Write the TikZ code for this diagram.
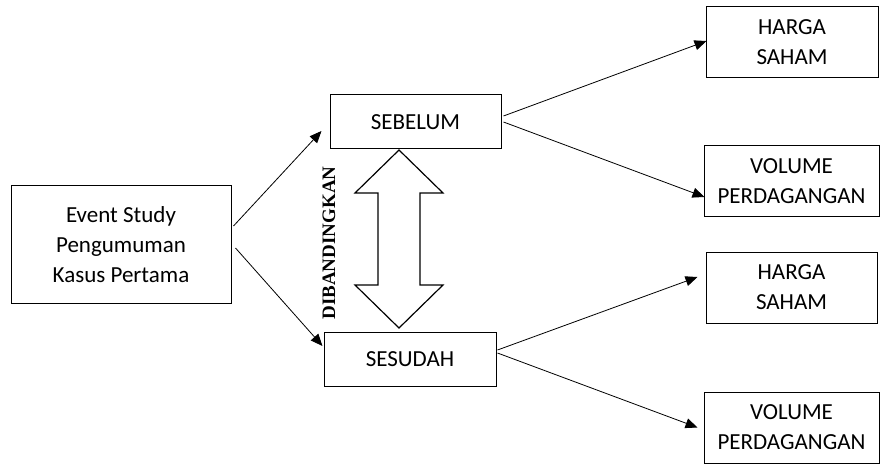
\documentclass[tikz,border=0pt]{standalone}
\usepackage{fontspec}
\setmainfont{Carlito}
\newfontfamily\serifbold{Liberation Serif}
\usetikzlibrary{arrows.meta}

\begin{document}
\begin{tikzpicture}[x=1pt,y=1pt,
  box/.style={draw,line width=1pt,align=center,inner sep=0pt,font=\fontsize{23}{30}\selectfont},
  link/.style={-{Triangle[length=12pt,width=10pt]},line width=0.8pt}]
\useasboundingbox (0,0) rectangle (880,464);
% boxes
\node[box,minimum width=220,minimum height=117] (event) at (121,219.5) {Event Study\\Pengumuman\\Kasus Pertama};
\node[box,minimum width=171,minimum height=54] (sebelum) at (415.5,342) {SEBELUM};
\node[box,minimum width=172,minimum height=54] (sesudah) at (410,105) {SESUDAH};
\node[box,minimum width=172,minimum height=71] (harga1) at (792,421.5) {HARGA\\SAHAM};
\node[box,minimum width=175,minimum height=71] (volume1) at (791.5,282.5) {VOLUME\\PERDAGANGAN};
\node[box,minimum width=171,minimum height=71] (harga2) at (791.5,176.5) {HARGA\\SAHAM};
\node[box,minimum width=175,minimum height=71] (volume2) at (791.5,36.5) {VOLUME\\PERDAGANGAN};
% arrows
\draw[link] ([xshift=2pt,yshift=18.5pt]event.east) -- ([xshift=-8pt,yshift=-9pt]sebelum.west);
\draw[link] ([xshift=4pt,yshift=-3.5pt]event.east) -- ([xshift=-1pt,yshift=13pt]sesudah.west);
\draw[link] ([xshift=2pt,yshift=6pt]sebelum.east) -- ([xshift=1pt,yshift=1.5pt]harga1.west);
\draw[link] ([xshift=2pt]sebelum.east) -- ([xshift=1pt,yshift=-15.5pt]volume1.west);
\draw[link] ([xshift=1pt,yshift=9pt]sesudah.east) -- ([xshift=-8pt,yshift=10.5pt]harga2.west);
\draw[link] ([xshift=1pt,yshift=6pt]sesudah.east) -- ([xshift=-6pt]volume2.west);
% compared
\coordinate (cmp) at (399,225);
\draw[line width=1.2pt,line join=miter] ([yshift=89pt]cmp) -- ++(44,-43) -- ++(-23,0) -- ++(0,-92)
  -- ++(23,0) -- ++(-44,-43) -- ++(-44,43) -- ++(23,0) -- ++(0,92) -- ++(-23,0) -- cycle;
\node[rotate=90,font=\serifbold\bfseries\fontsize{19}{22}\selectfont] (dibanding) at (329,221) {DIBANDINGKAN};
\end{tikzpicture}
\end{document}
